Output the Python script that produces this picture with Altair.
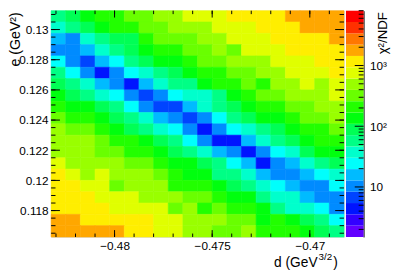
import altair as alt
import numpy as np
import pandas as pd

FONT = "Liberation Sans"

# ---------------- axis ranges / ticks ----------------
d_range = [-0.48325, -0.46825]
e_range = [0.11625, 0.13125]
z_range = [1.5, 8000.0]
n_bins = 20
n_contours = 20

x_major = [-0.48, -0.475, -0.47]
x_minor = [round(-0.483 + 0.001 * i, 4) for i in range(15)]
y_major = [0.118, 0.120, 0.122, 0.124, 0.126, 0.128, 0.130]
y_minor = [round(0.1165 + 0.0005 * i, 5) for i in range(30)]
z_major = [10, 100, 1000]
z_minor = [2, 3, 4, 5, 6, 7, 8, 9, 20, 30, 40, 50, 60, 70, 80, 90,
           200, 300, 400, 500, 600, 700, 800, 900, 2000, 3000, 4000, 5000, 6000, 7000, 8000]

# ---------------- chi2/NDF per cell, top row (high e) first, d increasing ----------------
r00 = [58, 89, 136, 209, 209, 321, 321, 494, 494, 759, 759, 759, 1166, 1166, 1166, 1166, 1791, 1791, 1791, 1791]
r01 = [38, 58, 89, 136, 209, 209, 321, 321, 494, 494, 494, 759, 759, 759, 1166, 1166, 1166, 1791, 1791, 1791]
r02 = [16, 10, 38, 58, 89, 89, 209, 321, 321, 321, 494, 494, 759, 759, 759, 1166, 1166, 1166, 1166, 1791]
r03 = [10, 10, 16, 38, 58, 89, 136, 209, 209, 321, 321, 494, 321, 759, 759, 759, 1166, 1166, 1166, 1166]
r04 = [25, 10, 6.8, 16, 25, 58, 89, 136, 136, 209, 321, 321, 494, 494, 494, 759, 759, 759, 1166, 1166]
r05 = [58, 25, 10, 4.4, 10, 25, 38, 58, 89, 136, 209, 209, 321, 321, 494, 494, 759, 759, 759, 1166]
r06 = [89, 58, 38, 16, 10, 4.4, 16, 38, 58, 58, 136, 209, 209, 321, 209, 494, 494, 759, 494, 759]
r07 = [136, 89, 58, 38, 25, 10, 6.8, 10, 25, 38, 38, 58, 136, 209, 321, 321, 494, 494, 494, 759]
r08 = [209, 136, 136, 89, 58, 25, 10, 6.8, 6.8, 16, 38, 58, 89, 136, 209, 209, 321, 321, 494, 494]
r09 = [321, 209, 209, 136, 89, 58, 38, 16, 10, 6.8, 10, 25, 58, 89, 136, 136, 209, 321, 321, 494]
r10 = [494, 321, 321, 209, 136, 89, 58, 38, 25, 10, 4.4, 10, 25, 38, 58, 89, 136, 209, 209, 321]
r11 = [494, 494, 494, 321, 209, 209, 136, 89, 58, 25, 10, 4.4, 4.4, 16, 38, 58, 89, 136, 209, 209]
r12 = [494, 494, 494, 321, 321, 209, 209, 136, 89, 58, 38, 16, 10, 4.4, 10, 25, 38, 89, 136, 136]
r13 = [759, 494, 494, 494, 494, 321, 321, 209, 136, 136, 89, 58, 25, 16, 4.4, 10, 16, 38, 58, 89]
r14 = [1166, 759, 494, 759, 494, 494, 494, 321, 209, 136, 136, 58, 58, 38, 16, 10, 10, 16, 25, 38]
r15 = [1166, 1166, 759, 759, 321, 494, 494, 494, 209, 209, 209, 136, 89, 58, 38, 25, 16, 10, 10, 25]
r16 = [1166, 1166, 1166, 759, 759, 759, 494, 494, 494, 321, 321, 209, 136, 136, 58, 38, 38, 16, 10, 10]
r17 = [1166, 1166, 1166, 1166, 759, 759, 759, 759, 321, 494, 209, 321, 209, 209, 136, 58, 38, 38, 25, 10]
r18 = [1791, 1791, 1166, 1166, 1166, 1166, 1166, 759, 759, 494, 494, 494, 321, 321, 136, 209, 136, 89, 58, 25]
r19 = [1791, 1791, 1791, 1791, 1791, 1166, 1166, 759, 759, 494, 494, 321, 321, 494, 209, 209, 209, 136, 89, 58]
rows = [r00, r01, r02, r03, r04, r05, r06, r07, r08, r09,
        r10, r11, r12, r13, r14, r15, r16, r17, r18, r19]

# ---------------- tables ----------------
d_edges = np.linspace(d_range[0], d_range[1], n_bins + 1)
e_edges = np.linspace(e_range[0], e_range[1], n_bins + 1)
recs = []
for i, row in enumerate(rows):
    k = n_bins - 1 - i
    for j, v in enumerate(row):
        recs.append(dict(d0=d_edges[j], d1=d_edges[j + 1],
                         e0=e_edges[k], e1=e_edges[k + 1], chi2=v))
cells = pd.DataFrame(recs)

# ROOT "pretty" palette (50 colours, HLS violet->red), 20 contour levels
edges = np.logspace(np.log10(z_range[0]), np.log10(z_range[1]), n_contours + 1)
pal_idx = [int((k + 0.99) * 50 / n_contours) for k in range(n_contours)]
colors = [f"hsl({280 - (i + 1) * 5.6:.1f},100%,50%)" for i in pal_idx]
bands = pd.DataFrame(dict(lo=edges[:-1], hi=edges[1:], col=colors))

# ---------------- geometry ----------------
W, H = 299, 231
xs = alt.Scale(domain=d_range, zero=False, nice=False)
ys = alt.Scale(domain=e_range, zero=False, nice=False)
zs = alt.Scale(type="log", domain=z_range, nice=False)
cs = alt.Scale(type="threshold", domain=[float(v) for v in edges[1:-1]], range=colors)

x_axis = alt.Axis(values=x_major, format=".3~f", title=None, ticks=False, domain=False,
                  grid=False, labelPadding=4, labelFontSize=12, labelFont=FONT,
                  labelColor="black", labelOverlap=False, labelFlush=False)
y_axis = alt.Axis(values=y_major, format=".3~f", title="e (GeV²)", ticks=False,
                  domain=False, grid=False, labelPadding=3, labelFontSize=12,
                  labelFont=FONT, labelColor="black", labelOverlap=False,
                  titleAngle=270, titleX=-32, titleY=1, titleAlign="right",
                  titleBaseline="alphabetic", titleFontSize=14.5, titleFont=FONT,
                  titleFontWeight="normal", titleColor="black")

heat = alt.Chart(cells).mark_rect(strokeWidth=0.6).encode(
    x=alt.X("d0:Q", scale=xs, axis=x_axis), x2="d1:Q",
    y=alt.Y("e0:Q", scale=ys, axis=y_axis), y2="e1:Q",
    color=alt.Color("chi2:Q", scale=cs, legend=None),
    stroke=alt.Stroke("chi2:Q", scale=cs, legend=None),
)


def xticks(vals, length):
    df = pd.DataFrame({"v": vals})
    base = alt.Chart(df).mark_rule(color="black", strokeWidth=1)
    xenc = alt.X("v:Q", scale=xs, axis=x_axis)
    return [base.encode(x=xenc, y=alt.value(H), y2=alt.value(H - length)),
            base.encode(x=xenc, y=alt.value(0), y2=alt.value(length))]


def yticks(vals, length):
    df = pd.DataFrame({"v": vals})
    base = alt.Chart(df).mark_rule(color="black", strokeWidth=1)
    yenc = alt.Y("v:Q", scale=ys, axis=y_axis)
    return [base.encode(y=yenc, x=alt.value(0), x2=alt.value(length)),
            base.encode(y=yenc, x=alt.value(W), x2=alt.value(W - length))]


ticks = xticks(x_major, 7) + xticks(x_minor, 3.5) + yticks(y_major, 9) + yticks(y_minor, 4.5)

title_df = pd.DataFrame({"t": ["d (GeV"]})
sup_df = pd.DataFrame({"t": ["3/2"]})
par_df = pd.DataFrame({"t": [")"]})
xt1 = alt.Chart(title_df).mark_text(align="right", baseline="alphabetic", fontSize=14,
                                    font=FONT, color="black").encode(
    x=alt.value(272), y=alt.value(262), text="t:N")
xt2 = alt.Chart(sup_df).mark_text(align="left", baseline="alphabetic", fontSize=10,
                                  font=FONT, color="black").encode(
    x=alt.value(273), y=alt.value(255), text="t:N")
xt3 = alt.Chart(par_df).mark_text(align="left", baseline="alphabetic", fontSize=14,
                                  font=FONT, color="black").encode(
    x=alt.value(288), y=alt.value(262), text="t:N")

main = alt.layer(heat, *ticks, xt1, xt2, xt3)

# ---------------- colour bar ----------------
z_axis = alt.Axis(orient="right", offset=20, values=z_major,
                  labelExpr="datum.value == 10 ? '10' : datum.value == 100 ? '10²' : '10³'",
                  ticks=False, domain=True, domainColor="black", domainWidth=1, grid=False,
                  labelPadding=6, labelFontSize=12, labelFont=FONT, labelColor="black",
                  labelOverlap=False, labelFlush=False,
                  title="χ²/NDF", titleAngle=270, titleX=23, titleY=1, titleAlign="right",
                  titleBaseline="alphabetic", titleFontSize=13.5, titleFont=FONT,
                  titleFontWeight="normal", titleColor="black")

bar = alt.Chart(bands).mark_rect().encode(
    x=alt.value(W + 2), x2=alt.value(W + 20),
    y=alt.Y("lo:Q", scale=zs, axis=z_axis), y2="hi:Q",
    color=alt.Color("col:N", scale=None),
)
zt_major = alt.Chart(pd.DataFrame({"z": z_major})).mark_rule(color="black").encode(
    x=alt.value(W + 20), x2=alt.value(W + 11), y=alt.Y("z:Q", scale=zs, axis=z_axis))
zt_minor = alt.Chart(pd.DataFrame({"z": z_minor})).mark_rule(color="black").encode(
    x=alt.value(W + 20), x2=alt.value(W + 15), y=alt.Y("z:Q", scale=zs, axis=z_axis))

cbar = alt.layer(bar, zt_major, zt_minor)

chart = alt.layer(main, cbar).resolve_scale(
    y="independent", color="independent"
).properties(
    width=W, height=H,
    autosize=alt.AutoSizeParams(type="none"),
    padding={"left": 44, "top": 0, "right": 48, "bottom": 33},
).configure_view(stroke="black", strokeWidth=1).configure(font=FONT)

chart.save("out.html", embed_options={"renderer": "svg", "actions": False})
